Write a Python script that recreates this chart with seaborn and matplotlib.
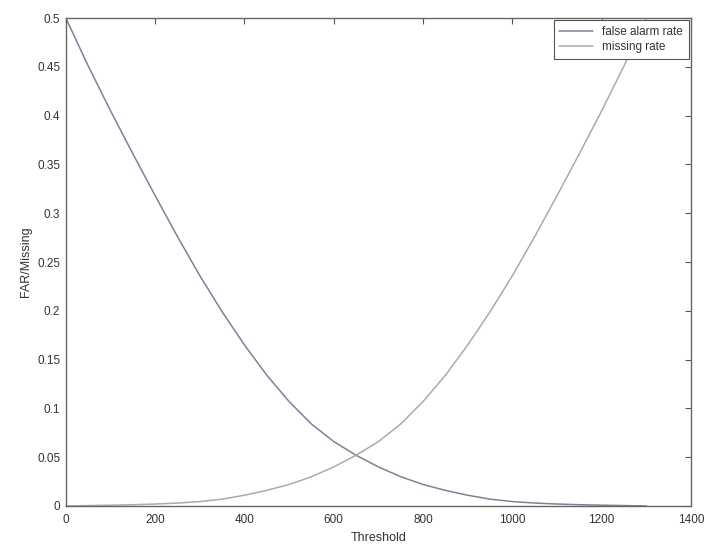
import numpy as np
import pandas as pd
import matplotlib
matplotlib.use("Agg")
import matplotlib.pyplot as plt
import seaborn as sns

threshold = [0, 50, 100, 150, 200, 250, 300, 350, 400, 450, 500, 550, 600, 650,
             700, 750, 800, 850, 900, 950, 1000, 1050, 1100, 1150, 1200, 1250, 1300]
false_alarm = [0.500, 0.451, 0.405, 0.361, 0.318, 0.276, 0.236, 0.199, 0.165, 0.134,
               0.107, 0.084, 0.066, 0.052, 0.040, 0.030, 0.022, 0.016, 0.011, 0.007,
               0.0045, 0.003, 0.002, 0.0013, 0.0008, 0.0004, 0.0]
missing = [0.0, 0.0004, 0.0008, 0.0013, 0.002, 0.003, 0.0045, 0.007, 0.011, 0.016,
           0.022, 0.030, 0.040, 0.052, 0.066, 0.084, 0.107, 0.134, 0.165, 0.199,
           0.236, 0.276, 0.318, 0.361, 0.405, 0.451, 0.500]

frame = pd.DataFrame({
    "Threshold": threshold * 2,
    "rate": false_alarm + missing,
    "series": ["false alarm rate"] * len(threshold) + ["missing rate"] * len(threshold),
})

sns.set_style("white")
plt.rcParams["font.family"] = ["Liberation Sans", "DejaVu Sans"]

fig = plt.figure(figsize=(7.08, 5.47), dpi=100)
ax = fig.add_axes([0.093, 0.075, 0.883, 0.892])

colors = ["#7c8297", "#a7aea7"]
sns.lineplot(data=frame, x="Threshold", y="rate", hue="series", palette=colors,
             linewidth=1.1, ax=ax)

ax.set_xlim(0, 1400)
ax.set_ylim(0, 0.5)
ax.set_xticks(np.arange(0, 1401, 200))
ax.set_yticks(np.arange(0, 0.501, 0.05))
ax.set_yticklabels(["0", "0.05", "0.1", "0.15", "0.2", "0.25", "0.3", "0.35", "0.4", "0.45", "0.5"])
ax.tick_params(direction="in", top=True, right=True, length=4, width=0.8,
               colors="#555555", labelcolor="#333333", labelsize=8.5)
ax.tick_params(axis="x", pad=6)
ax.tick_params(axis="y", pad=4)
for s in ax.spines.values():
    s.set_color("#666666")
    s.set_linewidth(1.0)

ax.set_xlabel("Threshold", fontsize=9, color="#333333", labelpad=4)
ax.set_ylabel("FAR/Missing", fontsize=9, color="#333333", labelpad=4)

leg = ax.legend(loc="upper right", fancybox=False, edgecolor="#555555", fontsize=8.5,
                borderaxespad=0.2, handlelength=2.8, labelspacing=0.25, framealpha=1,
                borderpad=0.5)
leg.set_title(None)
leg.get_frame().set_linewidth(0.8)
for t in leg.get_texts():
    t.set_color("#333333")

fig.savefig("out.png", dpi=100)
